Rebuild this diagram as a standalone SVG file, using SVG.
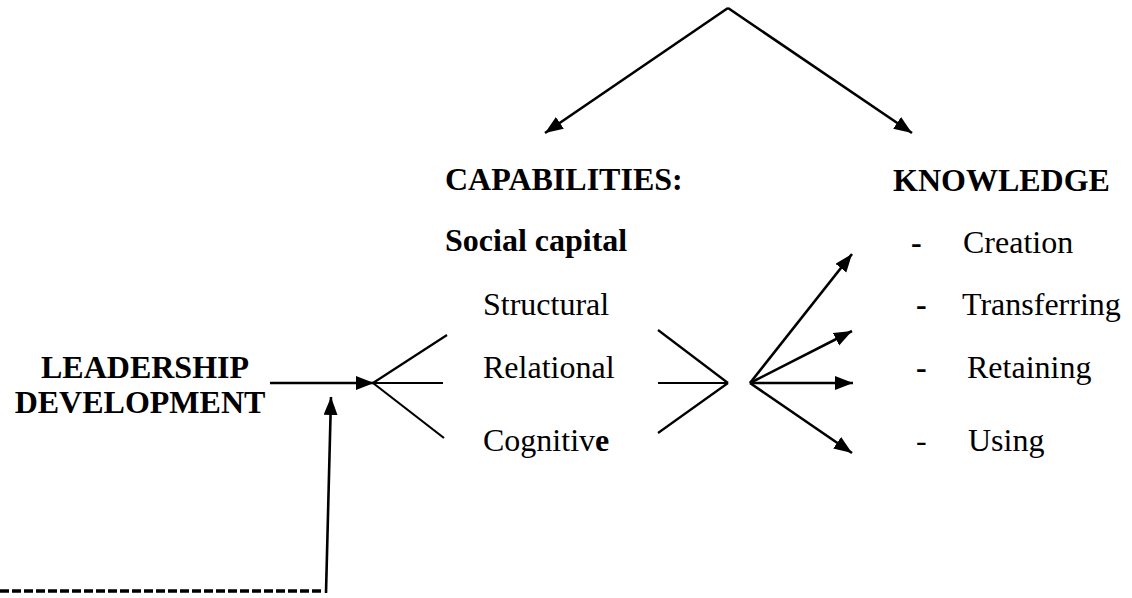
<svg xmlns="http://www.w3.org/2000/svg" width="1132" height="598" viewBox="0 0 1132 598">
<defs>
<marker id="ah" markerUnits="userSpaceOnUse" markerWidth="19" markerHeight="15" refX="18" refY="7" orient="auto">
<path d="M0,0 L18,7 L0,14 z" fill="#000"/>
</marker>
<style>
.t{font-family:"Liberation Serif","Times New Roman",serif;font-size:32px;fill:#000}
.b{font-weight:bold}
.ln{stroke:#000;stroke-width:2.2;fill:none}
.ar{stroke:#000;stroke-width:2.6;fill:none;marker-end:url(#ah)}
</style>
</defs>
<rect width="1132" height="598" fill="#fff"/>
<g id="connectors">
<line class="ar" x1="728" y1="8" x2="545" y2="133"/>
<line class="ar" x1="728" y1="8" x2="912" y2="133"/>
<line class="ar" x1="270" y1="383" x2="374" y2="383"/>
<line class="ar" x1="326" y1="593" x2="331" y2="397"/>
<line x1="0" y1="591" x2="322" y2="591" stroke="#000" stroke-width="3.5" stroke-dasharray="9,3"/>
<line class="ln" x1="373" y1="383" x2="447" y2="335"/>
<line class="ln" x1="373" y1="383" x2="443" y2="383"/>
<line class="ln" x1="373" y1="383" x2="444" y2="438"/>
<line class="ln" x1="658" y1="330" x2="728" y2="383"/>
<line class="ln" x1="658" y1="383" x2="728" y2="383"/>
<line class="ln" x1="728" y1="383" x2="658" y2="433"/>
<line class="ar" x1="750" y1="383" x2="852" y2="254"/>
<line class="ar" x1="750" y1="383" x2="852" y2="331"/>
<line class="ar" x1="750" y1="383" x2="853" y2="383"/>
<line class="ar" x1="750" y1="383" x2="852" y2="453"/>
</g>
<g id="leadership">
<text class="t b" x="145" y="378" text-anchor="middle">LEADERSHIP</text>
<text class="t b" x="140" y="413" text-anchor="middle">DEVELOPMENT</text>
</g>
<g id="capabilities">
<text class="t b" x="445" y="190">CAPABILITIES:</text>
<text class="t b" x="445" y="251">Social capital</text>
<text class="t" x="483" y="315">Structural</text>
<text class="t" x="483" y="378">Relational</text>
<text class="t" x="483" y="451">Cognitiv<tspan class="b">e</tspan></text>
</g>
<g id="knowledge">
<text class="t b" x="893" y="191">KNOWLEDGE</text>
<text class="t b" x="911" y="253">-</text>
<text class="t" x="963" y="253">Creation</text>
<text class="t b" x="916" y="315">-</text>
<text class="t" x="962" y="315">Transferring</text>
<text class="t b" x="916" y="378">-</text>
<text class="t" x="967" y="378">Retaining</text>
<text class="t" x="916" y="451">-</text>
<text class="t" x="968" y="451">Using</text>
</g>
</svg>
